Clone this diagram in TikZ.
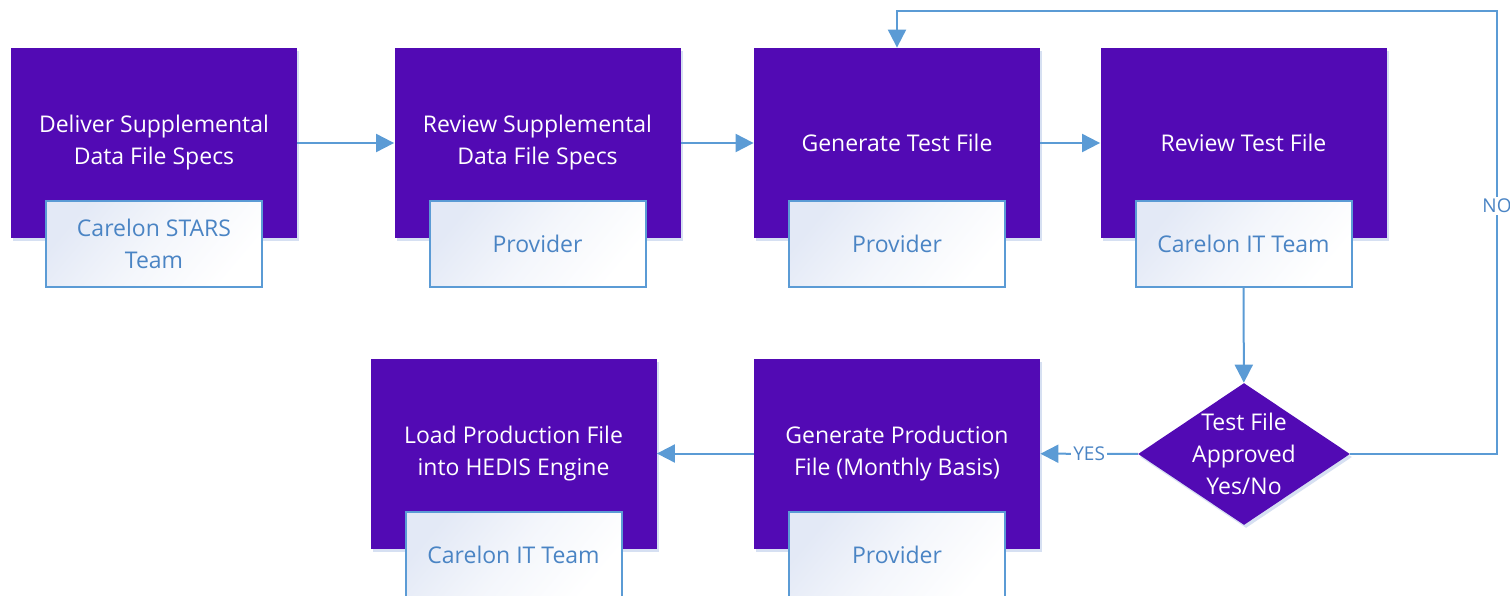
\documentclass[tikz,border=0pt]{standalone}
\usepackage{fontspec}
\setmainfont{Open Sans}
\usetikzlibrary{
  shapes.geometric,
  arrows.meta,
  shadows,
  positioning
}
\definecolor{stepviolet}{HTML}{520AB4}
\definecolor{flowblue}{HTML}{5B9BD5}
\definecolor{teamblue}{HTML}{4A84C4}
\definecolor{teamtint}{HTML}{E3E9F6}
\definecolor{softshade}{HTML}{C5D3EC}

\begin{document}
\begin{tikzpicture}[x = 0.5pt, y = -0.5pt,
    font = \fontsize{11.5}{16}\selectfont,
    task/.style = {rectangle, fill = stepviolet, text = white, align = center,
      minimum width = 143pt, minimum height = 95pt,
      drop shadow = {shadow xshift = 1pt, shadow yshift = -1.5pt, fill = softshade, opacity = .7}},
    team/.style = {rectangle, draw = flowblue, line width = 1pt, text = teamblue, align = center,
      minimum width = 108pt, minimum height = 43pt,
      top color = teamtint, bottom color = white, middle color = white!60!teamtint, shading angle = 50},
    decide/.style = {diamond, fill = stepviolet, inner sep = 0pt,
      minimum width = 106pt, minimum height = 71pt,
      drop shadow = {shadow xshift = 1pt, shadow yshift = -1.5pt, fill = softshade, opacity = .7}},
    flow/.style = {draw = flowblue, line width = 1pt, -{Triangle[length = 9pt, width = 9pt]}},
    answer/.style = {fill = white, text = teamblue, inner sep = 1pt, font = \fontsize{9.5}{10}\selectfont}
  ]
    \path[use as bounding box, clip] (0,0) rectangle (1510,595);

    \node[task] (deliver) at (154,143) {Deliver Supplemental\\Data File Specs};
    \node[task] (review) at (537.5,143) {Review Supplemental\\Data File Specs};
    \node[task] (gentest) at (897,143) {Generate Test File};
    \node[task] (revtest) at (1243.5,143) {Review Test File};
    \node[task] (load) at (513.5,453.5) {Load Production File\\into HEDIS Engine};
    \node[task] (genprod) at (897,453.5) {Generate Production\\File (Monthly Basis)};

    \node[team] (deliver-t) at (154,244) {Carelon STARS\\Team};
    \node[team] (review-t) at (537.5,244) {Provider};
    \node[team] (gentest-t) at (897,244) {Provider};
    \node[team] (revtest-t) at (1243.5,244) {Carelon IT Team};
    \node[team] (load-t) at (513.5,555) {Carelon IT Team};
    \node[team] (genprod-t) at (897,555) {Provider};

    \node[decide, label = {[text = white, align = center]center:Test File\\Approved\\Yes/No}] (approved) at (1244,454) {};
    \coordinate (noturn) at (1497,11);

    \draw[flow] (deliver) -- (review);
    \draw[flow] (review) -- (gentest);
    \draw[flow] (gentest) -- (revtest);
    \draw[flow] (revtest-t) -- (approved);
    \draw[flow] (approved) -- node[answer] {YES} (genprod);
    \draw[flow] (genprod) -- (load);
    \draw[flow] (approved.east) -| node[answer, pos = .78] {NO} (noturn) -| (gentest.north);
  \end{tikzpicture}
\end{document}
